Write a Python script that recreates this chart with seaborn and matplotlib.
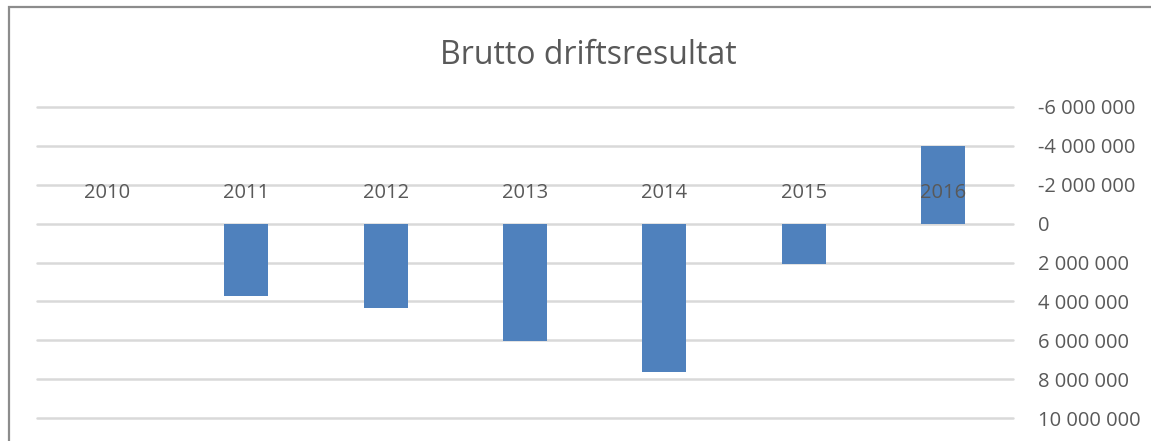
import seaborn as sns
import pandas as pd
import matplotlib.pyplot as plt
from matplotlib.patches import Rectangle

# data
years = ["2010", "2011", "2012", "2013", "2014", "2015", "2016"]
values = [0, 3730000, 4340000, 6030000, 7620000, 2090000, -4000000]
y_ticks = [-6000000, -4000000, -2000000, 0, 2000000, 4000000, 6000000, 8000000, 10000000]
title = "Brutto driftsresultat"

sns.set_theme(style="white")
plt.rcParams['font.family'] = ['Open Sans', 'DejaVu Sans']

text_color = "#595959"
grid_color = "#d9d9d9"

data = pd.DataFrame({"year": years, "value": values})

fig = plt.figure(figsize=(11.51, 4.41), dpi=100)
ax = fig.add_axes([37/1151, 23/441, 976/1151, 311/441])

sns.barplot(data=data, x="year", y="value", color="#4f81bd", saturation=1,
            width=0.316, linewidth=0, ax=ax, zorder=2)

ax.set_ylim(y_ticks[-1], y_ticks[0])
ax.set_xlim(-0.5, len(years) - 0.5)
ax.set_yticks(y_ticks)
ax.set_yticklabels([f"{v:,}".replace(",", " ") for v in y_ticks])
ax.yaxis.tick_right()
ax.tick_params(axis="y", length=0, pad=18, labelsize=14.5, labelcolor=text_color)
for lab in ax.get_yticklabels():
    lab.set_horizontalalignment("left")
ax.set_xticks([])
ax.set_xlabel("")
ax.set_ylabel("")
for s in ax.spines.values():
    s.set_visible(False)
ax.grid(axis="y", color=grid_color, linewidth=1.8)
for gl in ax.get_ygridlines():
    gl.set_clip_on(False)
ax.set_axisbelow(True)

# category labels sit just above the zero line, in front of the bars
for i, yr in enumerate(years):
    ax.annotate(yr, (i, 0), xytext=(0, 22), textcoords="offset points",
                ha="center", va="center", fontsize=14.5, color=text_color, zorder=5)

fig.text(588/1151, 1 - 55/441, title, ha="center", va="center",
         fontsize=23, color=text_color)

# chart frame (cropped on the right and bottom)
fig.add_artist(Rectangle((8.5/1151, -0.1), 1.2, 1 - 7/441 + 0.1,
                         transform=fig.transFigure, fill=False,
                         edgecolor="#8c8c8c", linewidth=1.6))

fig.savefig("out.png", dpi=100)
